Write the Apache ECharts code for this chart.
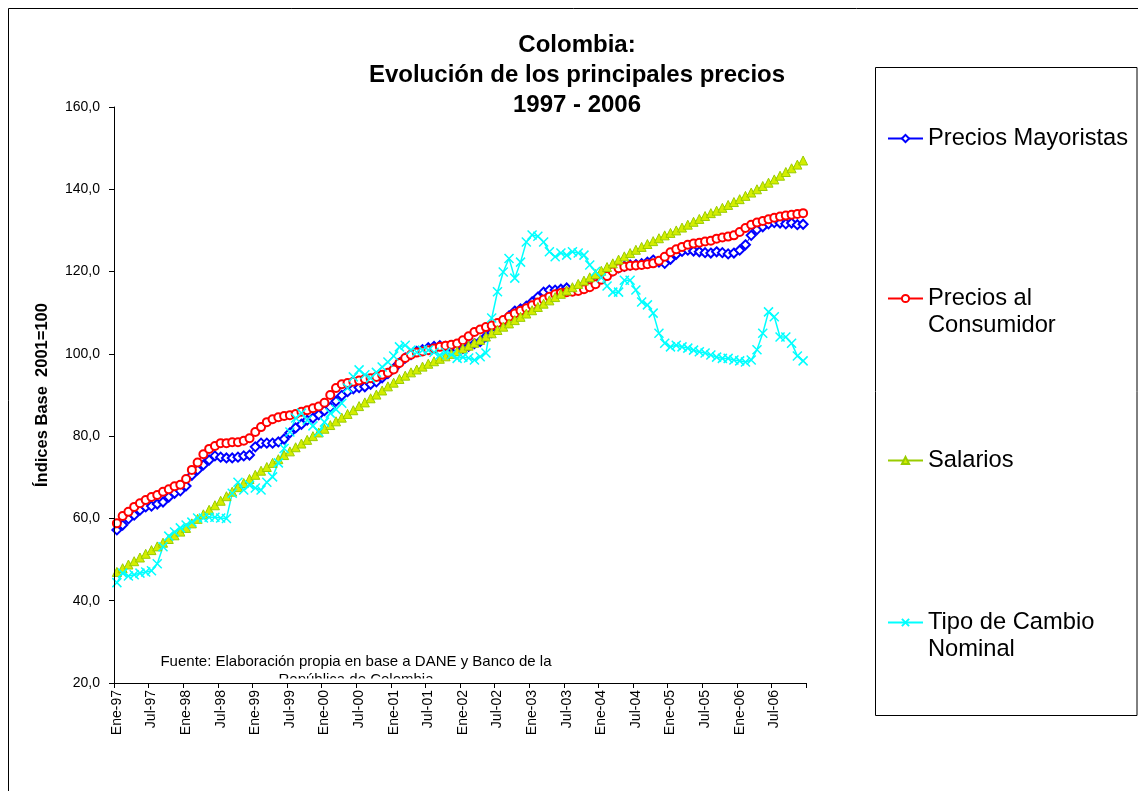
<!DOCTYPE html>
<html>
<head>
<meta charset="utf-8">
<script src="https://cdn.jsdelivr.net/npm/echarts@6/dist/echarts.min.js"></script>
<style>
  html, body { margin: 0; padding: 0; background: #ffffff; }
  #chart { width: 1138px; height: 791px; }
</style>
</head>
<body>
<div id="chart"></div>
<script>
// Monthly categories Ene-97 ... Dic-06
const monthNames = ['Ene', 'Feb', 'Mar', 'Abr', 'May', 'Jun', 'Jul', 'Ago', 'Sep', 'Oct', 'Nov', 'Dic'];
const years = ['97', '98', '99', '00', '01', '02', '03', '04', '05', '06'];
const categories = [];
years.forEach(function (y) { monthNames.forEach(function (m) { categories.push(m + '-' + y); }); });

// Índices base 2001 = 100, one value per month
const preciosMayoristas = [
  57.2, 58.4, 59.9, 60.8, 62.0, 62.8, 63.0, 63.5, 64.0, 65.2, 66.1, 66.7,
  67.9, 70.5, 71.8, 73.0, 74.2, 75.2, 74.9, 74.7, 74.7, 74.9, 75.2, 75.4,
  77.4, 78.3, 78.3, 78.3, 78.6, 79.3, 80.8, 82.0, 82.9, 83.9, 84.4, 85.2,
  86.2, 87.0, 88.5, 89.9, 90.8, 91.5, 91.8, 92.0, 92.6, 93.2, 94.2, 95.2,
  96.4, 97.8, 99.0, 99.8, 100.6, 101.0, 101.5, 101.8, 102.0, 101.8, 101.5, 101.2,
  101.3, 101.8, 102.5, 103.0, 104.2, 105.2, 106.3, 107.6, 109.2, 110.4, 110.9, 111.6,
  112.6, 113.8, 115.0, 115.5, 115.5, 115.7, 116.0, 115.5, 115.7, 116.2, 116.8, 117.6,
  118.4, 119.4, 120.2, 120.9, 121.3, 121.6, 121.7, 121.9, 122.3, 122.8, 122.3, 122.0,
  123.0, 124.2, 124.9, 125.2, 125.0, 124.8, 124.6, 124.5, 124.8, 124.6, 124.3, 124.5,
  125.2, 126.5, 128.8, 130.2, 130.9, 131.6, 131.9, 131.8, 131.6, 131.8, 131.4, 131.5
];

const preciosConsumidor = [
  58.8, 60.6, 61.6, 62.8, 63.7, 64.5, 65.2, 65.7, 66.5, 67.1, 67.8, 68.2,
  69.6, 71.8, 73.6, 75.6, 76.9, 77.6, 78.3, 78.3, 78.5, 78.5, 78.9, 79.5,
  81.0, 82.2, 83.4, 84.1, 84.6, 84.9, 85.1, 85.4, 85.9, 86.3, 86.8, 87.2,
  88.1, 90.0, 91.7, 92.6, 92.9, 93.2, 93.5, 93.9, 94.1, 94.4, 94.9, 95.4,
  96.2, 97.8, 99.0, 99.8, 100.3, 100.6, 100.9, 101.3, 101.7, 102.0, 102.2, 102.5,
  103.3, 104.3, 105.3, 105.9, 106.5, 106.9, 107.5, 108.2, 109.0, 109.8, 110.5, 111.1,
  111.8, 112.5, 113.2, 113.9, 114.5, 114.8, 115.0, 115.1, 115.3, 115.7, 116.2, 116.9,
  118.0, 118.9, 120.0, 120.8, 121.2, 121.4, 121.5, 121.6, 121.8, 122.0, 122.6, 123.6,
  124.7, 125.4, 126.0, 126.5, 126.8, 127.0, 127.3, 127.5, 128.0, 128.3, 128.5, 128.8,
  129.6, 130.6, 131.4, 131.9, 132.3, 132.7, 133.1, 133.4, 133.6, 133.8, 134.0, 134.2
];

const salarios = [
  47.0, 47.9, 48.8, 49.6, 50.5, 51.4, 52.3, 53.2, 54.1, 55.0, 55.9, 56.8,
  57.7, 58.8, 59.9, 61.0, 62.1, 63.2, 64.3, 65.4, 66.5, 67.6, 68.6, 69.6,
  70.6, 71.6, 72.5, 73.5, 74.4, 75.4, 76.3, 77.3, 78.2, 79.1, 80.0, 80.9,
  81.8, 82.7, 83.6, 84.5, 85.4, 86.3, 87.3, 88.2, 89.2, 90.1, 91.1, 92.1,
  93.0, 93.9, 94.7, 95.5, 96.2, 96.9, 97.6, 98.2, 98.8, 99.4, 100.0, 100.6,
  101.3, 102.0, 102.7, 103.4, 104.2, 105.0, 105.8, 106.6, 107.4, 108.2, 109.0, 109.8,
  110.6, 111.4, 112.2, 113.0, 113.8, 114.6, 115.4, 116.2, 117.0, 117.8, 118.6, 119.4,
  120.2, 121.1, 122.0, 122.9, 123.7, 124.5, 125.3, 126.0, 126.7, 127.4, 128.1, 128.8,
  129.4, 130.0, 130.7, 131.4, 132.1, 132.8, 133.5, 134.2, 134.8, 135.5, 136.2, 136.9,
  137.6, 138.4, 139.2, 140.0, 140.8, 141.6, 142.4, 143.3, 144.2, 145.1, 146.0, 147.0
];

const tipoCambioNominal = [
  44.4, 46.7, 46.0, 46.3, 46.7, 47.0, 47.3, 49.0, 53.1, 55.7, 56.7, 57.7,
  58.4, 59.1, 60.1, 60.1, 60.3, 60.3, 60.1, 60.0, 66.1, 68.8, 66.9, 68.1,
  67.4, 66.9, 68.8, 70.1, 73.5, 77.0, 81.0, 84.4, 85.6, 83.9, 82.5, 81.0,
  83.4, 85.6, 86.5, 88.0, 91.7, 94.4, 96.1, 94.9, 94.1, 95.5, 96.8, 98.0,
  99.5, 101.7, 102.1, 100.9, 100.4, 100.9, 100.9, 100.4, 99.7, 100.4, 99.8, 98.9,
  99.2, 99.0, 98.5, 99.3, 100.2, 108.7, 115.1, 119.9, 123.2, 118.4, 122.3, 127.2,
  128.9, 128.6, 127.2, 124.8, 123.6, 124.5, 124.0, 124.8, 124.5, 124.0, 121.6, 120.0,
  118.5, 116.5, 115.0, 115.0, 117.9, 117.9, 115.5, 112.6, 111.9, 109.9, 105.0, 102.6,
  101.7, 102.1, 101.7, 101.4, 100.9, 100.5, 100.2, 99.7, 99.2, 98.9, 98.9, 98.5,
  98.3, 98.0, 98.5, 101.0, 105.0, 110.2, 109.0, 104.1, 104.1, 102.6, 99.5, 98.3
];

const yTicks = { min: 20, max: 160, step: 20 };
const titleLines = ['Colombia:', 'Evolución de los principales precios', '1997 - 2006'];
const fuenteLines = ['Fuente: Elaboración propia en base a DANE y Banco de la', 'República de Colombia'];
const legendLabels = {
  'Precios Mayoristas': ['Precios Mayoristas'],
  'Precios al Consumidor': ['Precios al', 'Consumidor'],
  'Salarios': ['Salarios'],
  'Tipo de Cambio Nominal': ['Tipo de Cambio', 'Nominal']
};

const FONT = '"Liberation Sans", Arial, Helvetica, sans-serif';
const CROSS = 'path://M0,0L10,10M10,0L0,10';

const chart = echarts.init(document.getElementById('chart'), null, { renderer: 'canvas' });

// One legend block per series; a leading empty line keeps the marker level
// with the first line of a two-line label.
function legendBlock(name, top) {
  return {
    data: [name],
    left: 887,
    top: top,
    orient: 'vertical',
    padding: 0,
    itemWidth: 35,
    itemHeight: 9,
    selectedMode: false,
    textStyle: { fontFamily: FONT, fontSize: 23.7, color: '#000', lineHeight: 27 },
    formatter: function (n) {
      const lines = legendLabels[n];
      return lines.length > 1 ? '\n' + lines.join('\n') : lines[0];
    }
  };
}

const option = {
  animation: false,
  backgroundColor: '#ffffff',
  textStyle: { fontFamily: FONT },
  grid: { left: 114, right: 332, top: 107, bottom: 108, containLabel: false },
  legend: [
    legendBlock('Precios Mayoristas', 125),
    legendBlock('Precios al Consumidor', 258),
    legendBlock('Salarios', 447),
    legendBlock('Tipo de Cambio Nominal', 582)
  ],
  xAxis: {
    type: 'category',
    data: categories,
    boundaryGap: true,
    z: 5,
    axisLine: { lineStyle: { color: '#000', width: 1 } },
    axisTick: { show: true, interval: 5, length: 5, lineStyle: { color: '#000' } },
    axisLabel: { interval: 5, rotate: 90, fontSize: 14, color: '#000', margin: 7, fontFamily: FONT },
    splitLine: { show: false }
  },
  yAxis: {
    type: 'value',
    min: yTicks.min,
    max: yTicks.max,
    interval: yTicks.step,
    z: 5,
    name: 'Índices Base  2001=100',
    nameLocation: 'middle',
    nameRotate: 90,
    nameGap: 63,
    nameTextStyle: { fontFamily: FONT, fontSize: 16.5, fontWeight: 'bold', color: '#000' },
    axisLine: { show: true, lineStyle: { color: '#000', width: 1 } },
    axisTick: { show: true, length: 5, lineStyle: { color: '#000' } },
    axisLabel: {
      fontSize: 14, color: '#000', margin: 14, fontFamily: FONT,
      formatter: function (v) { return v.toFixed(1).replace('.', ','); }
    },
    splitLine: { show: false }
  },
  series: [
    {
      name: 'Precios Mayoristas',
      type: 'line',
      data: preciosMayoristas,
      symbol: 'emptyDiamond',
      symbolSize: 9,
      showAllSymbol: true,
      lineStyle: { color: '#0000ff', width: 1 },
      itemStyle: { color: '#0000ff', borderColor: '#0000ff', borderWidth: 1.5 }
    },
    {
      name: 'Precios al Consumidor',
      type: 'line',
      data: preciosConsumidor,
      symbol: 'emptyCircle',
      symbolSize: 8,
      showAllSymbol: true,
      lineStyle: { color: '#ff0000', width: 1 },
      itemStyle: { color: '#ff0000', borderColor: '#ff0000', borderWidth: 1.5 }
    },
    {
      name: 'Salarios',
      type: 'line',
      data: salarios,
      symbol: 'triangle',
      symbolSize: 9,
      showAllSymbol: true,
      lineStyle: { color: '#99cc00', width: 1 },
      itemStyle: { color: '#d4ee00', borderColor: '#99cc00', borderWidth: 1 }
    },
    {
      name: 'Tipo de Cambio Nominal',
      type: 'line',
      data: tipoCambioNominal,
      symbol: CROSS,
      symbolSize: 9,
      showAllSymbol: true,
      lineStyle: { color: '#00ffff', width: 1.5 },
      itemStyle: { color: '#00ffff', borderColor: '#00ffff', borderWidth: 1.5 }
    }
  ],
  graphic: [
    {
      type: 'rect', silent: true, z: 0,
      shape: { x: 8.5, y: 8.5, width: 1200, height: 1000 },
      style: { fill: 'none', stroke: '#000', lineWidth: 1 }
    },
    {
      type: 'rect', silent: true, z: 0,
      shape: { x: 875.5, y: 67.5, width: 261.5, height: 648 },
      style: { fill: 'none', stroke: '#000', lineWidth: 1 }
    },
    {
      type: 'text', silent: true, z: 1,
      x: 577, y: 75,
      style: {
        text: titleLines.join('\n'),
        font: 'bold 24px ' + FONT,
        lineHeight: 30,
        fill: '#000',
        textAlign: 'center',
        textVerticalAlign: 'middle'
      }
    },
    {
      type: 'text', silent: true, z: 1,
      x: 356, y: 671,
      style: {
        text: fuenteLines.join('\n'),
        font: '15px ' + FONT,
        lineHeight: 18,
        fill: '#000',
        textAlign: 'center',
        textVerticalAlign: 'middle'
      }
    },
    {
      // the note's box ends just under the tops of its second line
      type: 'rect', silent: true, z: 3,
      shape: { x: 150, y: 678.5, width: 500, height: 25 },
      style: { fill: '#ffffff', stroke: null, lineWidth: 0 }
    }
  ]
};

chart.setOption(option);
</script>
</body>
</html>
